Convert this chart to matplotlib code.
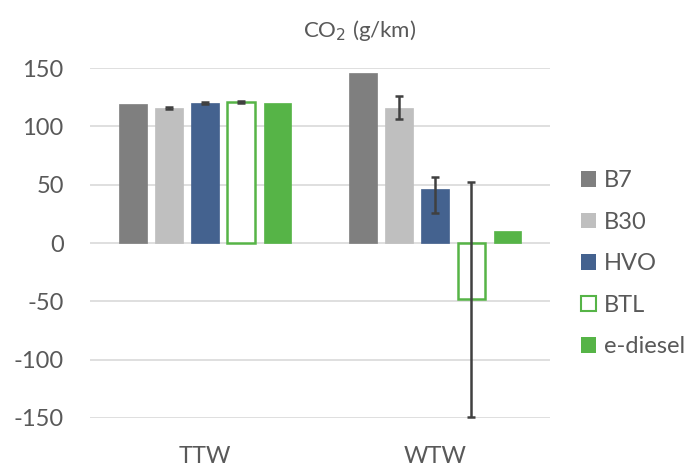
import numpy as np
import matplotlib.pyplot as plt
from matplotlib.patches import Patch

plt.rcParams['font.family'] = ['Lato', 'DejaVu Sans']
plt.rcParams['axes.unicode_minus'] = False

categories = ['TTW', 'WTW']
fuels = ['B7', 'B30', 'HVO', 'BTL', 'e-diesel']
values = {
    'B7': [119, 146],
    'B30': [116, 116],
    'HVO': [120, 46],
    'BTL': [121, -48],
    'e-diesel': [120, 10],
}
# asymmetric error bars (lower, upper)
err_low = {'B30': [1, 10], 'HVO': [1, 20], 'BTL': [1, 101]}
err_high = {'B30': [1, 10], 'HVO': [1, 11], 'BTL': [1, 100]}

face = {'B7': '#7f7f7f', 'B30': '#bfbfbf', 'HVO': '#44628f', 'BTL': 'white', 'e-diesel': '#56b447'}
edge = {'B7': '#7f7f7f', 'B30': '#bfbfbf', 'HVO': '#44628f', 'BTL': '#56b447', 'e-diesel': '#56b447'}

text_col = '#595959'

fig = plt.figure(figsize=(6.93, 4.67), dpi=100)
ax = fig.add_axes([0.130, 0.105, 0.664, 0.749])

x = np.arange(len(categories))
step = 0.157
width = 0.12
for i, f in enumerate(fuels):
    pos = x + (i - 2) * step
    lw = 1.8 if f == 'BTL' else 0.5
    ax.bar(pos, values[f], width, color=face[f], edgecolor=edge[f], linewidth=lw, zorder=3)
    if f in err_low:
        ax.errorbar(pos, values[f], yerr=[err_low[f], err_high[f]], fmt='none',
                    ecolor='#404040', elinewidth=1.8, capsize=3, capthick=1.8, zorder=4)

ax.set_ylim(-150, 150)
ax.set_xlim(-0.5, 1.5)
ax.set_yticks(np.arange(-150, 151, 50))
ax.yaxis.grid(True, color='#d9d9d9', linewidth=1.2, zorder=0)
ax.set_axisbelow(True)
ax.set_xticks(x)
ax.set_xticklabels(categories)
ax.tick_params(axis='both', length=0, labelsize=17, colors=text_col)
ax.tick_params(axis='y', pad=19)
ax.tick_params(axis='x', pad=20)
for s in ax.spines.values():
    s.set_visible(False)

fig.text(0.519, 0.921, 'CO$_2$ (g/km)', ha='center', va='baseline', fontsize=16, color=text_col)

handles = [Patch(facecolor=face[f], edgecolor=edge[f], linewidth=1.5 if f == 'BTL' else 0) for f in fuels]
leg = fig.legend(handles, fuels, loc='center left', bbox_to_anchor=(0.838, 0.435), frameon=False,
                 fontsize=17, handlelength=0.64, handleheight=0.64, handletextpad=0.34,
                 labelspacing=0.87, borderpad=0, borderaxespad=0)
for t in leg.get_texts():
    t.set_color(text_col)

fig.savefig('out.png', dpi=100)
